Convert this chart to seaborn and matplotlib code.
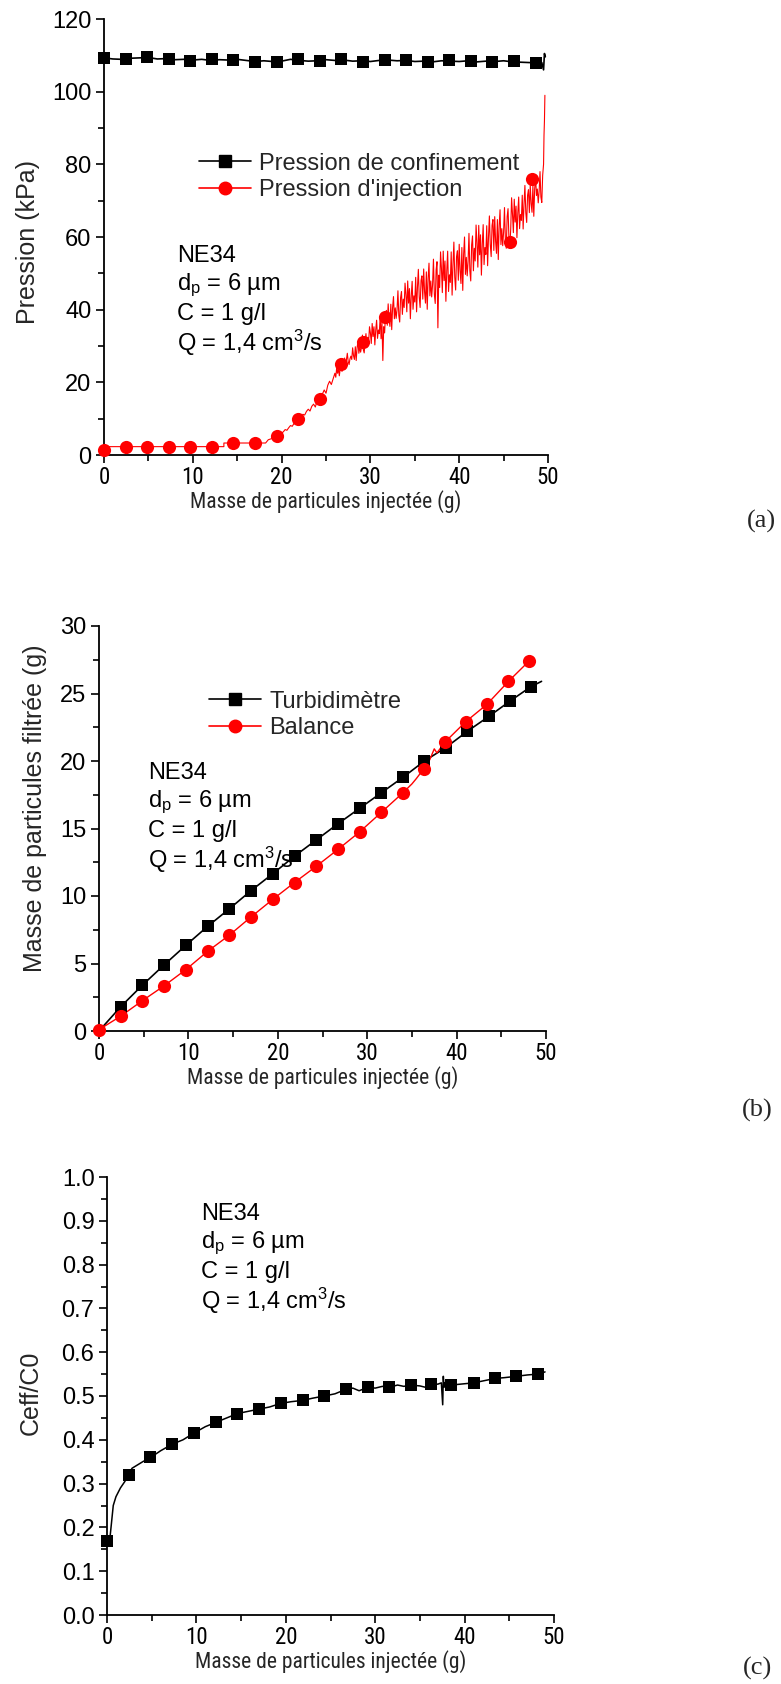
import numpy as np
import pandas as pd
import matplotlib
matplotlib.use("Agg")
import matplotlib.pyplot as plt
import matplotlib.font_manager as fm
from matplotlib.lines import Line2D
from matplotlib.ticker import MultipleLocator, FormatStrFormatter
import seaborn as sns

sns.set_theme(style="ticks")
plt.rcParams['font.family'] = ['Liberation Sans', 'DejaVu Sans']
plt.rcParams['mathtext.fontset'] = 'custom'
plt.rcParams['mathtext.rm'] = 'Liberation Sans'
plt.rcParams['mathtext.it'] = 'Liberation Sans'

# look for a narrow sans font for the x axis texts
_narrow = None
_pref = ['Liberation Sans Narrow', 'Arial Narrow', 'Roboto Condensed',
         'Open Sans Condensed', 'Noto Sans Condensed', 'DejaVu Sans']
_cands = []
for f in fm.fontManager.ttflist:
    st = f.stretch
    is_narrow = ('Narrow' in f.name or 'Condensed' in f.name or
                 'Narrow' in f.fname or 'Condensed' in f.fname or
                 (isinstance(st, str) and 'condensed' in st) or
                 (isinstance(st, int) and st < 500))
    if is_narrow and f.weight in (400, 'normal', 'regular', 'book') and f.style == 'normal':
        _cands.append(f)
for p in _pref:
    for f in _cands:
        if f.name == p or p.replace(' ', '') in f.fname.replace(' ', ''):
            _narrow = f
            break
    if _narrow is not None:
        break
if _narrow is None and _cands:
    _narrow = _cands[0]

if _narrow is not None:
    NARROW_FP = dict(fontproperties=fm.FontProperties(fname=_narrow.fname))
    XL_FS, XT_FS = 15.5, 16.5
else:
    NARROW_FP = dict(family='Liberation Sans')
    XL_FS, XT_FS = 14, 15

# ---------------- Data: panel (a) ----------------
conf_x = [0, 1, 2, 3, 4, 5, 6, 7, 8, 9, 10, 11, 12, 13, 14, 15, 16, 17, 18, 19,
          20, 21, 22, 23, 24, 25, 26, 27, 28, 29, 30, 31, 32, 33, 34, 35, 36, 37, 38, 39,
          40, 41, 42, 43, 44, 45, 46, 47, 48, 49, 49.3, 49.5, 49.6, 49.7]
conf_y = [109.3, 109.0, 108.9, 109.2, 109.3, 109.4, 109.0, 109.1, 108.8, 108.9,
          108.7, 108.9, 108.6, 108.8, 108.7, 108.9, 108.6, 108.3, 108.5, 108.3,
          108.4, 108.9, 108.6, 108.4, 108.5, 108.8, 108.6, 108.7, 108.4, 108.5,
          108.3, 108.6, 108.7, 108.5, 108.6, 108.3, 108.4, 108.2, 108.5, 108.4,
          108.3, 108.5, 108.2, 108.4, 108.3, 108.5, 108.2, 108.1, 108.0, 108.2,
          108.0, 106.0, 110.5, 109.6]
conf_mx = [0, 2.43, 4.86, 7.29, 9.72, 12.15, 14.58, 17.01, 19.44, 21.87, 24.3,
           26.73, 29.16, 31.59, 34.02, 36.45, 38.88, 41.31, 43.74, 46.17, 48.6]
conf_my = [109.2, 109.0, 109.5, 109.0, 108.5, 109.0, 108.8, 108.3, 108.3, 109.0, 108.5,
           108.9, 108.3, 108.7, 108.7, 108.3, 108.6, 108.4, 108.3, 108.5, 107.9]

# injection pressure, low part (irregular x)
inj_x_low = [0, 0.1, 13.5, 13.5, 18.2, 18.5, 19.0, 19.4, 19.8]
inj_y_low = [1.5, 2.3, 2.3, 3.3, 3.3, 4.2, 4.6, 5.3, 5.6]
# 20.0 .. 25.8, every 0.2 g
inj_y_mid = [6.0, 6.4, 7.0, 6.8, 7.5, 8.1, 7.9, 8.7, 9.3, 9.1,
             10.3, 10.1, 11.2, 11.0, 12.0, 12.6, 12.1, 13.4, 14.0, 13.2,
             15.0, 15.9, 15.3, 16.8, 17.9, 17.0, 19.2, 20.3, 19.4, 21.0]
# 26.0 .. 49.4, every 0.1 g
inj_y_noisy = [
    22.5, 21.4, 23.9, 22.5, 23.8, 21.8, 23.7, 25.0, 23.0, 24.1,
    24.2, 26.7, 23.7, 26.2, 28.0, 25.7, 24.9, 26.5, 27.2, 26.3,
    29.5, 27.3, 26.3, 29.8, 26.0, 29.5, 31.3, 28.0, 29.8, 28.3,
    29.7, 33.0, 29.0, 28.1, 31.2, 33.4, 29.7, 32.4, 31.1, 35.3,
    33.6, 30.7, 36.2, 32.6, 35.3, 30.3, 34.4, 37.1, 32.1, 34.4,
    33.4, 38.1, 32.0, 36.7, 26.0, 35.3, 33.6, 38.7, 39.8, 35.7,
    41.6, 37.4, 35.4, 41.5, 34.5, 40.6, 43.6, 37.5, 40.5, 37.6,
    40.0, 45.2, 38.4, 36.6, 43.3, 45.0, 38.7, 42.9, 40.6, 47.3,
    44.2, 39.4, 47.9, 41.8, 45.8, 37.5, 43.7, 47.8, 40.1, 43.8,
    42.1, 48.9, 39.4, 46.2, 51.1, 43.5, 40.6, 48.0, 49.3, 42.9,
    51.2, 44.9, 41.8, 50.4, 40.1, 48.7, 52.8, 43.8, 47.9, 43.5,
    46.8, 53.9, 44.3, 41.7, 50.9, 53.2, 35.0, 49.5, 46.1, 55.9,
    51.3, 44.7, 56.1, 48.0, 53.4, 42.3, 50.7, 56.1, 45.0, 49.6,
    47.5, 55.9, 44.0, 52.5, 58.6, 48.9, 45.4, 54.6, 56.2, 48.1,
    58.0, 50.7, 47.2, 57.1, 45.3, 55.3, 60.0, 49.7, 54.4, 49.3,
    53.3, 61.0, 50.7, 47.9, 57.8, 60.3, 50.7, 56.9, 53.4, 63.3,
    58.3, 51.7, 63.2, 55.1, 60.6, 49.5, 58.0, 63.4, 52.4, 57.1,
    55.2, 63.1, 52.1, 60.0, 65.8, 57.9, 54.6, 63.2, 64.8, 56.3,
    65.6, 58.8, 55.5, 64.8, 53.8, 63.1, 67.5, 57.9, 62.3, 57.6,
    61.4, 68.1, 59.3, 56.9, 65.6, 67.8, 59.6, 57.5, 62.1, 70.8,
    66.3, 61.2, 70.4, 64.1, 68.5, 59.8, 66.6, 71.0, 62.3, 66.2,
    64.6, 71.5, 62.2, 69.1, 74.2, 66.7, 64.0, 71.5, 73.0, 66.7,
    74.4, 69.2, 66.8, 74.2, 65.7, 73.2, 76.8, 71.4, 73.2, 69.4,
    72.5, 78.0, 71.0, 69.5, 77.0]
inj_x_end = [49.5, 49.55, 49.6, 49.65]
inj_y_end = [80.0, 88.0, 92.0, 99.0]
inj_mx = [0, 2.43, 4.86, 7.29, 9.72, 12.15, 14.58, 17.01, 19.44, 21.87, 24.3,
          26.73, 29.16, 31.59, 45.7, 48.2]
inj_my = [1.5, 2.3, 2.3, 2.3, 2.3, 2.3, 3.3, 3.3, 5.3, 10.0, 15.5,
          25.0, 31.0, 38.0, 58.5, 76.0]

# ---------------- Data: panel (b) ----------------
turb_x = [0, 2.43, 4.86, 7.29, 9.72, 12.15, 14.58, 17.01, 19.44, 21.87, 24.3,
          26.73, 29.16, 31.59, 34.02, 36.4, 38.8, 41.2, 43.6, 46.0, 48.3, 49.5]
turb_y = [0.0, 1.8, 3.4, 4.9, 6.35, 7.75, 9.05, 10.4, 11.65, 12.95, 14.15,
          15.35, 16.5, 17.65, 18.8, 20.0, 21.0, 22.2, 23.3, 24.45, 25.5, 25.9]
bal_x = [0, 2.43, 4.86, 7.29, 9.72, 12.15, 14.58, 17.01, 19.44, 21.87, 24.3,
         26.73, 29.16, 31.59, 34.0, 35.0, 35.5, 36.3, 37.0, 37.5, 37.8, 38.7,
         41.0, 43.4, 45.8, 48.1]
bal_y = [0.1, 1.1, 2.25, 3.35, 4.55, 5.9, 7.1, 8.45, 9.75, 11.0, 12.2,
         13.45, 14.75, 16.2, 17.65, 18.3, 18.7, 19.4, 20.1, 20.9, 20.6, 21.4,
         22.9, 24.2, 25.9, 27.4]
bal_mx = [0, 2.43, 4.86, 7.29, 9.72, 12.15, 14.58, 17.01, 19.44, 21.87, 24.3,
          26.73, 29.16, 31.59, 34.0, 36.3, 38.7, 41.0, 43.4, 45.8, 48.1]
bal_my = [0.1, 1.1, 2.25, 3.35, 4.55, 5.9, 7.1, 8.45, 9.75, 11.0, 12.2,
          13.45, 14.75, 16.2, 17.65, 19.4, 21.4, 22.9, 24.2, 25.9, 27.4]

# ---------------- Data: panel (c) ----------------
ceff_x = [0, 0.1, 0.2, 0.35, 0.5, 0.7, 1.0, 1.5, 2.0, 2.4, 2.8, 3.2, 4.0, 4.9,
          6.0, 7.3, 8.5, 9.7, 11.0, 12.2, 13.4, 14.6, 15.8, 17.0, 18.2, 19.4,
          20.6, 21.9, 23.0, 24.3, 25.5, 26.7, 27.5, 28.2, 29.2, 30.0, 30.8,
          31.6, 32.5, 33.2, 34.0, 35.0, 35.6, 36.2, 37.0, 37.4, 37.55, 37.62,
          37.7, 37.8, 38.5, 39.5, 41.0, 42.2, 43.4, 44.5, 45.8, 47.0, 48.2, 49.0]
ceff_y = [0.16, 0.165, 0.17, 0.18, 0.21, 0.25, 0.27, 0.29, 0.305, 0.32, 0.335,
          0.34, 0.35, 0.36, 0.375, 0.39, 0.40, 0.415, 0.43, 0.44, 0.45, 0.46,
          0.465, 0.47, 0.475, 0.483, 0.487, 0.49, 0.495, 0.50, 0.505, 0.515,
          0.518, 0.512, 0.52, 0.518, 0.522, 0.52, 0.525, 0.522, 0.525, 0.523,
          0.52, 0.528, 0.527, 0.53, 0.48, 0.545, 0.52, 0.53, 0.525, 0.527, 0.53,
          0.535, 0.54, 0.542, 0.545, 0.548, 0.55, 0.555]
ceff_mx = [0, 2.43, 4.86, 7.29, 9.72, 12.15, 14.58, 17.01, 19.44, 21.87, 24.3,
           26.73, 29.16, 31.59, 34.02, 36.2, 38.5, 41.0, 43.4, 45.8, 48.2]
ceff_my = [0.17, 0.32, 0.36, 0.39, 0.415, 0.44, 0.46, 0.47, 0.483, 0.49, 0.50,
           0.515, 0.52, 0.52, 0.525, 0.528, 0.525, 0.53, 0.54, 0.545, 0.55]

annot_lines = ["NE34", r"d$_\mathregular{p}$ = 6 µm", "C = 1 g/l",
               r"Q = 1,4 cm$^\mathregular{3}$/s"]
xlabel = "Masse de particules injectée (g)"
leg_a = ["Pression de confinement", "Pression d'injection"]
leg_b = ["Turbidimètre", "Balance"]

# ---------------- Figure ----------------
W, H = 781, 1684
fig = plt.figure(figsize=(W / 100, H / 100), dpi=100)
fig.patch.set_facecolor("white")


def rect(l, r, t, b):
    return [l / W, 1 - b / H, (r - l) / W, (b - t) / H]


AX = {"a": (104, 548, 19, 455), "b": (99, 546, 626, 1031), "c": (107, 554, 1177, 1615)}
ax_a = fig.add_axes(rect(*AX["a"]))
ax_b = fig.add_axes(rect(*AX["b"]))
ax_c = fig.add_axes(rect(*AX["c"]))

FS = 17


def style_axis(ax, ymax, ymajor, yminor):
    ax.set_facecolor("white")
    for s in ["top", "right"]:
        ax.spines[s].set_visible(False)
    for s in ["left", "bottom"]:
        ax.spines[s].set_color("black")
        ax.spines[s].set_linewidth(1.3)
    ax.set_xlim(0, 50)
    ax.set_ylim(0, ymax)
    ax.xaxis.set_major_locator(MultipleLocator(10))
    ax.xaxis.set_minor_locator(MultipleLocator(5))
    ax.yaxis.set_major_locator(MultipleLocator(ymajor))
    ax.yaxis.set_minor_locator(MultipleLocator(yminor))
    ax.tick_params(which="major", direction="out", length=6, width=1.2,
                   colors="black", labelsize=FS, pad=3)
    ax.tick_params(which="minor", direction="out", length=4, width=1.2,
                   colors="black")
    ax.tick_params(axis="x", which="major", pad=2)
    ax.grid(False)


def xticks_narrow(ax):
    for lab in ax.get_xticklabels():
        if 'fontproperties' in NARROW_FP:
            lab.set_fontproperties(NARROW_FP['fontproperties'])
        else:
            lab.set_family(NARROW_FP['family'])
        lab.set_fontsize(XT_FS)


def labels(ax, key, ylab, xl_y, yl_x, yl_y):
    l, r, t, b = AX[key]
    ax.set_xlabel(xlabel, fontsize=XL_FS, **NARROW_FP)
    ax.xaxis.set_label_coords(0.5, -(xl_y - b) / (b - t))
    ax.xaxis.label.set_va("center")
    ax.set_ylabel(ylab, fontsize=18)
    ax.yaxis.set_label_coords(-(l - yl_x) / (r - l), (b - yl_y) / (b - t))
    ax.yaxis.label.set_va("center")


def line(ax, x, y, color, lw):
    sns.lineplot(x=x, y=y, ax=ax, color=color, lw=lw, sort=False,
                 estimator=None, legend=False)


def marks(ax, x, y, color, marker, s):
    sns.scatterplot(x=x, y=y, ax=ax, color=color, marker=marker, s=s,
                    linewidth=0, legend=False, zorder=5, clip_on=False)


def annotate(x_px, y_px):
    for i, t in enumerate(annot_lines):
        fig.text(x_px / W, 1 - (y_px + i * 29) / H, t, fontsize=FS,
                 ha="left", va="center", color="black")


def legend(ax, key, names, x_px, y_px, hl):
    l, r, t, b = AX[key]
    h = [Line2D([], [], color="black", lw=1.2, marker="s", markersize=8),
         Line2D([], [], color="red", lw=1.2, marker="o", markersize=9)]
    ax.legend(h, names, loc="center left",
              bbox_to_anchor=((x_px - l) / (r - l), (b - y_px) / (b - t)),
              frameon=False, fontsize=FS, handlelength=hl, handletextpad=0.35,
              labelspacing=0.2, borderpad=0, borderaxespad=0)


SQ, CI = 72, 90
XLOFF = 47

# Panel (a)
inj_x = (inj_x_low
         + [round(20.0 + 0.2 * i, 2) for i in range(len(inj_y_mid))]
         + [round(26.0 + 0.1 * i, 2) for i in range(len(inj_y_noisy))]
         + inj_x_end)
inj_y = inj_y_low + inj_y_mid + inj_y_noisy + inj_y_end
line(ax_a, conf_x, conf_y, "black", 1.2)
marks(ax_a, conf_mx, conf_my, "black", "s", SQ)
line(ax_a, inj_x, inj_y, "red", 0.8)
marks(ax_a, inj_mx, inj_my, "red", "o", CI)
style_axis(ax_a, 120, 20, 10)
xticks_narrow(ax_a)
labels(ax_a, "a", "Pression (kPa)", 455 + XLOFF, 28, 242)
legend(ax_a, "a", leg_a, 199, 177, 2.2)
annotate(177, 256)
fig.text(761 / W, 1 - 521 / H, "(a)", fontsize=19, family="Liberation Serif",
         ha="center", va="center")

# Panel (b)
line(ax_b, turb_x, turb_y, "black", 1.2)
marks(ax_b, turb_x[1:-1], turb_y[1:-1], "black", "s", SQ)
line(ax_b, bal_x, bal_y, "red", 1.0)
marks(ax_b, bal_mx, bal_my, "red", "o", CI)
style_axis(ax_b, 30, 5, 2.5)
xticks_narrow(ax_b)
labels(ax_b, "b", "Masse de particules filtrée (g)", 1031 + XLOFF, 35, 808)
legend(ax_b, "b", leg_b, 209, 715, 2.2)
annotate(148, 773)
fig.text(757 / W, 1 - 1110 / H, "(b)", fontsize=19, family="Liberation Serif",
         ha="center", va="center")

# Panel (c)
line(ax_c, ceff_x, ceff_y, "black", 1.1)
marks(ax_c, ceff_mx, ceff_my, "black", "s", SQ)
style_axis(ax_c, 1.0, 0.1, 0.05)
ax_c.yaxis.set_major_formatter(FormatStrFormatter("%.1f"))
xticks_narrow(ax_c)
labels(ax_c, "c", "Ceff/C0", 1615 + XLOFF, 31, 1393)
annotate(201, 1214)
fig.text(757 / W, 1 - 1668 / H, "(c)", fontsize=19, family="Liberation Serif",
         ha="center", va="center")

fig.savefig("out.png", dpi=100, facecolor="white")
